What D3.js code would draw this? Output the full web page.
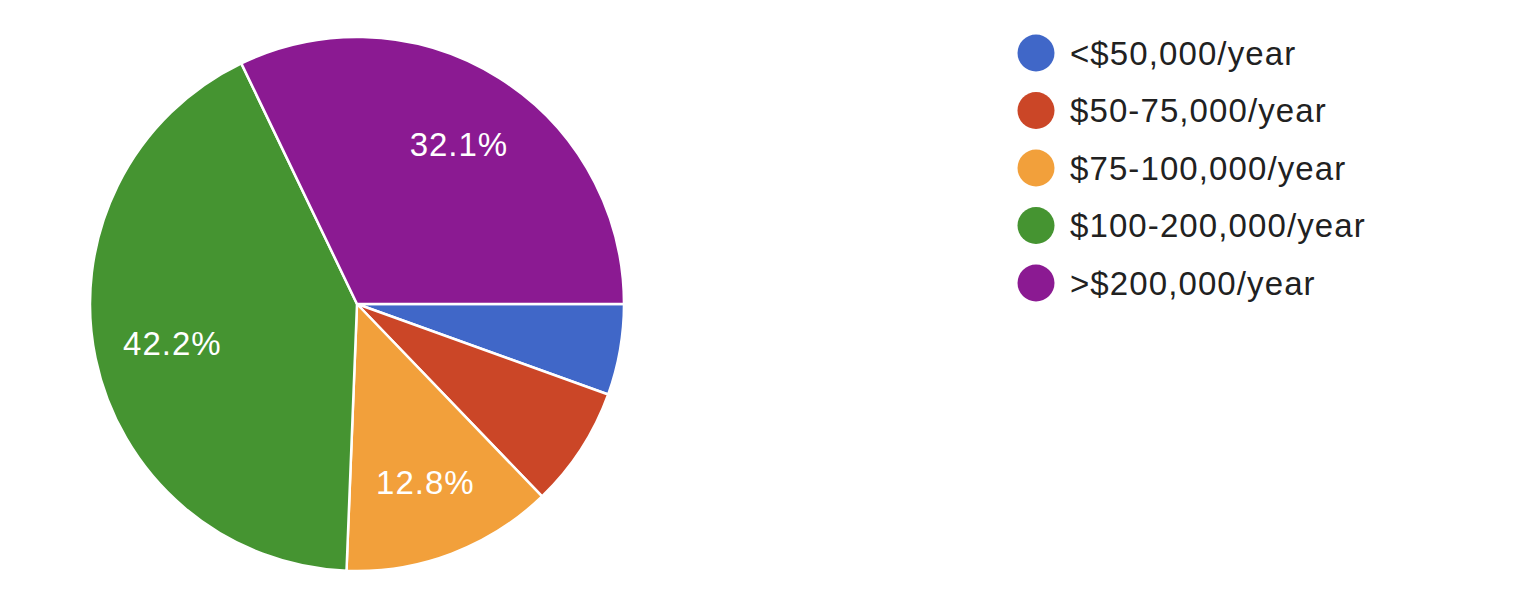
<!DOCTYPE html>
<html>
<head>
<meta charset="utf-8">
<script src="https://cdn.jsdelivr.net/npm/d3@7"></script>
<style>
  html, body { margin: 0; padding: 0; background: #fff; }
  svg { display: block; }
</style>
</head>
<body>
<svg id="chart" width="1536" height="597"></svg>
<script>
const categories = ["<$50,000/year", "$50-75,000/year", "$75-100,000/year", "$100-200,000/year", ">$200,000/year"];
const values = [5.5, 7.3, 12.8, 42.2, 32.1];
const colors = ["#4067c8", "#cb4627", "#f2a03b", "#459431", "#8b1a92"];

const svg = d3.select("#chart");
const cx = 357, cy = 304, R = 267;
const fontFam = "'Liberation Sans', Arial, sans-serif";

const data = categories.map((c, i) => ({ cat: c, value: values[i], color: colors[i] }));
const pie = d3.pie().value(d => d.value).sort(null)
  .startAngle(Math.PI / 2).endAngle(Math.PI / 2 + 2 * Math.PI);
const arcs = pie(data);
const arc = d3.arc().innerRadius(0).outerRadius(R);
const labelArc = d3.arc().innerRadius(R * 0.71).outerRadius(R * 0.71);

const g = svg.append("g").attr("transform", `translate(${cx},${cy})`);
g.selectAll("path.slice").data(arcs).join("path")
  .attr("class", "slice")
  .attr("d", arc)
  .attr("fill", d => d.data.color)
  .attr("stroke", "#fff")
  .attr("stroke-width", 2.5)
  .attr("stroke-linejoin", "round");

g.selectAll("text.lbl").data(arcs.filter(d => d.data.value >= 10)).join("text")
  .attr("class", "lbl")
  .attr("transform", d => {
    const [x, y] = labelArc.centroid(d);
    return `translate(${x + 1},${y + 1})`;
  })
  .attr("text-anchor", "middle")
  .attr("dominant-baseline", "central")
  .attr("fill", "#fff")
  .style("font-family", fontFam)
  .style("font-size", "33px")
  .style("letter-spacing", "1px")
  .text(d => d.data.value.toFixed(1) + "%");

const legendY = d3.scalePoint().domain(categories).range([53, 283]);
const lg = svg.append("g");
const rows = lg.selectAll("g.row").data(data).join("g")
  .attr("class", "row")
  .attr("transform", d => `translate(0,${legendY(d.cat)})`);
rows.append("circle")
  .attr("cx", 1036).attr("cy", 0).attr("r", 18.5)
  .attr("fill", d => d.color);
rows.append("text")
  .attr("x", 1070).attr("y", 0)
  .attr("dominant-baseline", "central")
  .attr("fill", "#212121")
  .style("font-family", fontFam)
  .style("font-size", "33px")
  .style("letter-spacing", "1.1px")
  .text(d => d.cat);
</script>
</body>
</html>
